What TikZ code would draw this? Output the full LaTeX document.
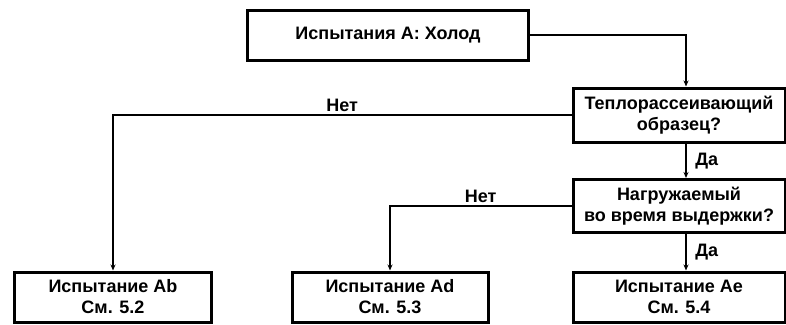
\documentclass[tikz,border=0pt]{standalone}
\usepackage{fontspec}
\setmainfont{Liberation Sans}
\usetikzlibrary{positioning, calc, arrows.meta}

\tikzset{
	blk/.style={draw, line width=3pt, minimum height=50pt, align=center, inner sep=0pt,
		font=\bfseries\fontsize{18}{21}\selectfont},
	arr/.style={line width=2.5pt, -{Stealth[length=6pt,width=5pt]}},
	lbl/.style={font=\bfseries\fontsize{18}{21}\selectfont, inner sep=2pt}
}

\begin{document}
\begin{tikzpicture}[x=1pt, y=-1pt]
			\useasboundingbox (0,0) rectangle (786,324);
			\node (test) [blk, minimum width=281pt] at (388,35) {Испытания А: Холод};
			\node (heat) [blk, minimum width=212pt, minimum height=54pt] at (679,115)
				{Теплорассеивающий\\образец?};
			\node (load) [blk, minimum width=212pt, minimum height=53pt] at (679,206)
				{Нагружаемый\\во время выдержки?};
			\node (ab) [blk, minimum width=197pt] at (113,297) {Испытание Ab\\См. 5.2};
			\node (ad) [blk, minimum width=196pt] at (390,297) {Испытание Ad\\См. 5.3};
			\node (ae) [blk, minimum width=212pt] at (679,297) {Испытание Ae\\См. 5.4};
			\coordinate (col) at (686,0);
			% yes branch down the right column
			\draw [arr] (test.east) -| (heat.north -| col);
			\draw [arr] (heat.south -| col) -- node [right=6pt, lbl] {Да} (load.north -| col);
			\draw [arr] (load.south -| col) -- node [right=6pt, lbl] {Да} (ae.north -| col);
			% no branches
			\draw [arr] (heat.west) -| node [pos=0.25, above, lbl] {Нет} (ab.north);
			\draw [arr] (load.west) -| node [pos=0.25, above, lbl] {Нет} (ad.north);
		\end{tikzpicture}
\end{document}
